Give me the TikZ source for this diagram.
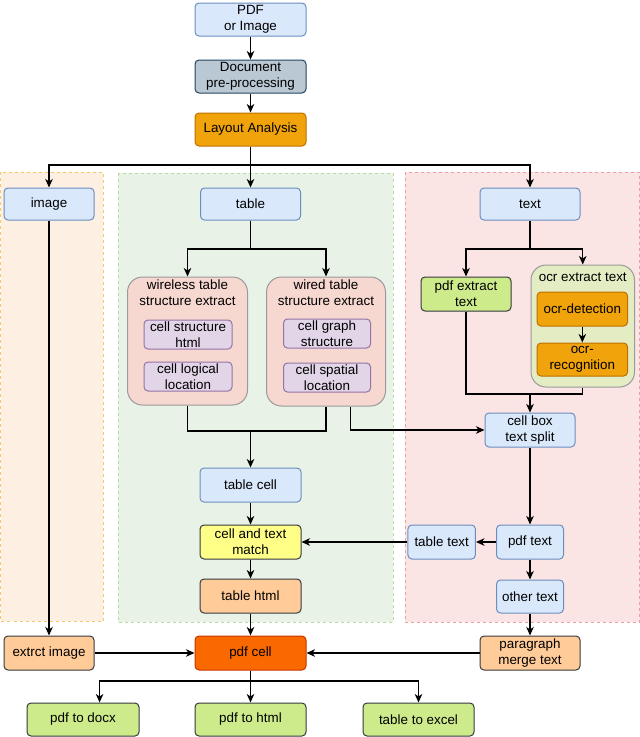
\documentclass[tikz,border=0pt]{standalone}
\usepackage{fontspec}
\setmainfont{Liberation Sans}
\usetikzlibrary{arrows.meta}

\definecolor{bluefill}{HTML}{DAE8FC}
\definecolor{blueline}{HTML}{6C8EBF}
\definecolor{grayfill}{HTML}{BAC8D3}
\definecolor{grayline}{HTML}{23445D}
\definecolor{ambfill}{HTML}{F0A30A}
\definecolor{ambline}{HTML}{BD7000}
\definecolor{peach}{HTML}{FFCC99}
\definecolor{darkline}{HTML}{36393D}
\definecolor{yelfill}{HTML}{FFFF88}
\definecolor{limefill}{HTML}{CDEB8B}
\definecolor{redfill}{HTML}{FA6800}
\definecolor{redline}{HTML}{C73500}
\definecolor{purfill}{HTML}{E1D5E7}
\definecolor{purline}{HTML}{9673A6}
\definecolor{rosefill}{HTML}{F6D8D0}
\definecolor{olivefill}{HTML}{E4ECC4}
\definecolor{contline}{HTML}{9A9A9A}
\definecolor{imgzone}{HTML}{FDEFE1}
\definecolor{imgedge}{HTML}{F5C96A}
\definecolor{tabzone}{HTML}{E9F2E7}
\definecolor{tabedge}{HTML}{B9D9A9}
\definecolor{txtzone}{HTML}{FBE4E4}
\definecolor{txtedge}{HTML}{E8A0A0}

\begin{document}
\begin{tikzpicture}[x=1pt, y=-1pt,
    font=\fontsize{13.4}{16}\selectfont,
    box/.style={draw, rounded corners=4pt, line width=1pt, align=center,
      inner sep=1pt, minimum height=33pt},
    bluebox/.style={box, fill=bluefill, draw=blueline},
    graybox/.style={box, fill=grayfill, draw=grayline},
    ambbox/.style={box, fill=ambfill, draw=ambline},
    peachbox/.style={box, fill=peach, draw=darkline},
    yelbox/.style={box, fill=yelfill, draw=darkline},
    limebox/.style={box, fill=limefill, draw=darkline},
    redbox/.style={box, fill=redfill, draw=redline},
    purbox/.style={box, fill=purfill, draw=purline, minimum height=29pt},
    container/.style={draw=contline, line width=1pt, rounded corners=15pt},
    zone/.style={dashed, dash pattern=on 3pt off 3pt, line width=1pt},
    arr/.style={-{Stealth[length=8.5pt,width=7.5pt,inset=2.5pt]}, line width=1.4pt},
    link/.style={line width=1.4pt}]

    % page frame
    \useasboundingbox (0,0) rectangle (640,737);

    % background zones
    \filldraw[zone, fill=imgzone, draw=imgedge] (0.5,172) rectangle (103,621);
    \filldraw[zone, fill=tabzone, draw=tabedge] (118,173) rectangle (393,622);
    \filldraw[zone, fill=txtzone, draw=txtedge] (405,172) rectangle (639.5,622);

    % top of the pipeline
    \node[bluebox, minimum width=111pt] (pdf) at (250.5,19.5) {PDF\\or Image};
    \node[graybox, minimum width=111pt] (prep) at (250.5,76.5) {Document\\pre-processing};
    \node[ambbox, minimum width=111pt] (layout) at (250.5,129.5) {Layout Analysis};

    % three branches
    \node[bluebox, minimum width=90pt, minimum height=32pt] (image) at (49,204) {image};
    \node[bluebox, minimum width=100pt, minimum height=32pt] (table) at (250.5,204) {table};
    \node[bluebox, minimum width=100pt, minimum height=32pt] (text) at (530,204) {text};

    % table structure extraction
    \node[container, fill=rosefill, minimum width=120pt, minimum height=128pt,
      label={[anchor=north, align=center, inner sep=2pt, label distance=-1.5pt]north:wireless table\\structure extract}]
      (wless) at (187.5,341) {};
    \node[container, fill=rosefill, minimum width=119pt, minimum height=129pt,
      label={[anchor=north, align=center, inner sep=2pt, label distance=-1.5pt]north:wired table\\structure extract}]
      (wired) at (326,341.5) {};
    \node[purbox, minimum width=88pt] (cellhtml) at (188,334.5) {cell structure\\html};
    \node[purbox, minimum width=88pt] (cellloc) at (188,376.5) {cell logical\\location};
    \node[purbox, minimum width=87pt] (cellgraph) at (327,333.5) {cell graph\\structure};
    \node[purbox, minimum width=87pt] (cellspat) at (327,377.5) {cell spatial\\location};

    % text extraction
    \node[limebox, minimum width=90pt, minimum height=34pt] (pdfext) at (466,294) {pdf extract\\text};
    \node[container, fill=olivefill, minimum width=103.5pt, minimum height=122pt,
      label={[anchor=north, inner sep=2pt, label distance=-6pt]north:ocr extract text}]
      (ocr) at (582.75,326) {};
    \node[ambbox, minimum width=90.6pt, minimum height=34pt] (ocrdet) at (582.3,309) {ocr-detection};
    \node[ambbox, minimum width=90.6pt] (ocrrec) at (582.3,359.5) {ocr-\\recognition};
    \node[bluebox, minimum width=90pt, minimum height=34pt] (cellbox) at (530,430) {cell box\\text split};

    % matching
    \node[bluebox, minimum width=101pt, minimum height=34pt] (tcell) at (250.5,485) {table cell};
    \node[yelbox, minimum width=101pt, minimum height=34pt] (match) at (250.5,542) {cell and text\\match};
    \node[peachbox, minimum width=101pt, minimum height=34pt] (thtml) at (250.5,596) {table html};
    \node[bluebox, minimum width=67.5pt, minimum height=34pt] (ttext) at (441.7,542) {table text};
    \node[bluebox, minimum width=67pt, minimum height=34pt] (ptext) at (530,542) {pdf text};
    \node[bluebox, minimum width=67pt] (otext) at (530,596.5) {other text};

    % merging and outputs
    \node[redbox, minimum width=111pt, minimum height=34pt] (pdfcell) at (250.5,653) {pdf cell};
    \node[peachbox, minimum width=90pt, minimum height=34pt] (extimg) at (49,653) {extrct image};
    \node[peachbox, minimum width=100pt, minimum height=34pt] (para) at (530,653) {paragraph\\merge text};
    \node[limebox, minimum width=112pt] (docx) at (83,719.5) {pdf to docx};
    \node[limebox, minimum width=111pt] (html) at (250.5,719.5) {pdf to html};
    \node[limebox, minimum width=111pt] (excel) at (418.5,719.5) {table to excel};

    % junction points
    \coordinate (split) at (250.5,165);
    \coordinate (tsplit) at (250.5,249);
    \coordinate (xsplit) at (530,249);
    \coordinate (xmerge) at (530,394);
    \coordinate (tmerge) at (250.5,431);
    \coordinate (osplit) at (250.5,681);

    % connectors
    \draw[arr] (pdf) -- (prep);
    \draw[arr] (prep) -- (layout);
    \draw[arr] (layout) -- (table);
    \draw[arr] (split) -| (image);
    \draw[arr] (split) -| (text);
    \draw[arr] (image) -- (extimg);

    \draw[link] (table) -- (tsplit);
    \draw[arr] (tsplit) -| (wless);
    \draw[arr] (tsplit) -| (wired);
    \draw[link] (wless) |- (tmerge);
    \draw[link] (wired) |- (tmerge);
    \draw[arr] (tmerge) -- (tcell);
    \draw[arr] ([xshift=24.7pt]wired.south) |- (cellbox.west);

    \draw[link] (text) -- (xsplit);
    \draw[arr] (xsplit) -| (pdfext);
    \draw[arr] (xsplit) -| (ocr);
    \draw[arr] (ocrdet) -- (ocrrec);
    \draw[link] (pdfext) |- (xmerge);
    \draw[link] (ocr) |- (xmerge);
    \draw[arr] (xmerge) -- (cellbox);

    \draw[arr] (cellbox) -- (ptext);
    \draw[arr] (ptext) -- (ttext);
    \draw[arr] (ttext) -- (match);
    \draw[arr] (ptext) -- (otext);
    \draw[arr] (otext) -- (para);
    \draw[arr] (tcell) -- (match);
    \draw[arr] (match) -- (thtml);
    \draw[arr] (thtml) -- (pdfcell);
    \draw[arr] (extimg) -- (pdfcell);
    \draw[arr] (para) -- (pdfcell);

    \draw[link] (pdfcell) -- (osplit);
    \draw[arr] (osplit) -| ([xshift=16.6pt]docx.north);
    \draw[arr] (osplit) -- (html);
    \draw[arr] (osplit) -| (excel);
\end{tikzpicture}
\end{document}
